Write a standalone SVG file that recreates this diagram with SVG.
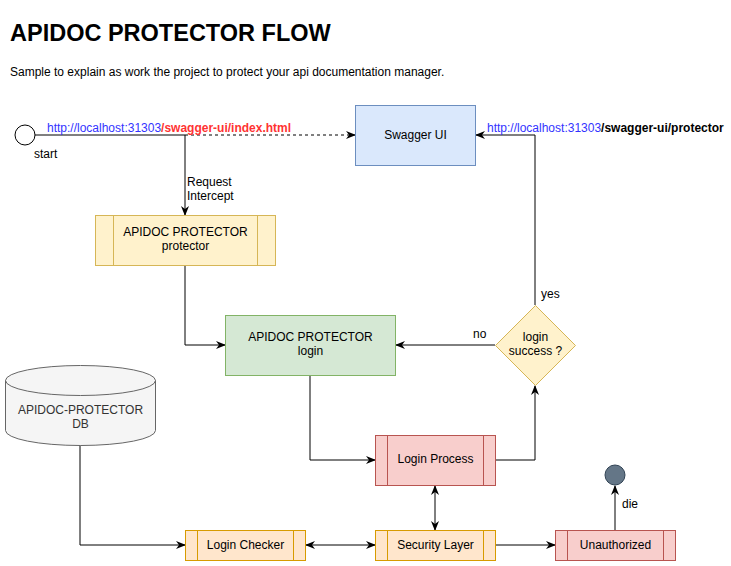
<svg xmlns="http://www.w3.org/2000/svg" width="731" height="566" viewBox="0 0 731 566">
<style>
text{font-family:"Liberation Sans",Arial,sans-serif;font-size:12px;fill:#000}
.c{text-anchor:middle}
.e{fill:none;stroke:#000;stroke-width:1}
.yellow{fill:#fff2cc;stroke:#d6b656}
.blue{fill:#dae8fc;stroke:#6c8ebf}
.green{fill:#d5e8d4;stroke:#82b366}
.red{fill:#f8cecc;stroke:#b85450}
.orange{fill:#ffe6cc;stroke:#d79b00}
.in{fill:none}
.red-in{stroke:#b85450}
.orange-in{stroke:#d79b00}
.yellow-in{stroke:#d6b656}
.url{fill:#3333ff}
</style>
<defs>
<marker id="a" viewBox="0 0 10 10" refX="9" refY="5" markerWidth="10" markerHeight="10" markerUnits="userSpaceOnUse" orient="auto-start-reverse">
<path d="M0,1 L10,5 L0,9 L3,5 Z" fill="#000"/>
</marker>
</defs>
<rect width="731" height="566" fill="#fff"/>
<g id="title">
<text x="10" y="41" style="font-size:23.5px;font-weight:bold">APIDOC PROTECTOR FLOW</text>
<text x="10" y="76">Sample to explain as work the project to protect your api documentation manager.</text>
</g>
<g id="connectors">
<path class="e" d="M35,135 H185"/>
<path class="e" d="M185,135 H355" stroke-dasharray="3,3" marker-end="url(#a)"/>
<path class="e" d="M185,135 V215" marker-end="url(#a)"/>
<path class="e" d="M185,265 V345 H225" marker-end="url(#a)"/>
<path class="e" d="M535,305 V135 H476" marker-end="url(#a)"/>
<path class="e" d="M495,345 H396" marker-end="url(#a)"/>
<path class="e" d="M310,375 V460 H375" marker-end="url(#a)"/>
<path class="e" d="M495,460 H535 V386" marker-end="url(#a)"/>
<path class="e" d="M80,445 V545 H185" marker-end="url(#a)"/>
<path class="e" d="M306,545 H375" marker-start="url(#a)" marker-end="url(#a)"/>
<path class="e" d="M435,486 V530" marker-start="url(#a)" marker-end="url(#a)"/>
<path class="e" d="M495,545 H555" marker-end="url(#a)"/>
<path class="e" d="M615,530 V486" marker-end="url(#a)"/>
<text x="47" y="132"><tspan class="url">http://localhost:31303</tspan><tspan style="fill:#ff3333;font-weight:bold">/swagger-ui/index.html</tspan></text>
<text x="187" y="186">Request</text>
<text x="187" y="200">Intercept</text>
<text x="487" y="132"><tspan class="url">http://localhost:31303</tspan><tspan style="font-weight:bold">/swagger-ui/protector</tspan></text>
<text x="541" y="298">yes</text>
<text x="473" y="338">no</text>
<text x="622" y="508">die</text>
</g>
<g id="start">
<circle cx="25" cy="135" r="10" fill="#fff" stroke="#000"/>
<text x="34" y="158">start</text>
</g>
<g id="swagger-ui">
<rect class="blue" x="355.5" y="105.5" width="120" height="60"/>
<text class="c" x="415.5" y="139">Swagger UI</text>
</g>
<g id="protector">
<rect class="yellow" x="95.5" y="215.5" width="180" height="50"/>
<path class="in yellow-in" d="M113.5,215.5 V265.5 M257.5,215.5 V265.5"/>
<text class="c" x="185.5" y="236">APIDOC PROTECTOR</text>
<text class="c" x="185.5" y="250">protector</text>
</g>
<g id="login">
<rect class="green" x="225.5" y="315.5" width="170" height="60"/>
<text class="c" x="310.5" y="341">APIDOC PROTECTOR</text>
<text class="c" x="310.5" y="355">login</text>
</g>
<g id="login-success">
<path class="yellow" d="M535.5,305.5 L575.5,345.5 L535.5,385.5 L495.5,345.5 Z"/>
<text class="c" x="535.5" y="341">login</text>
<text class="c" x="535.5" y="355">success ?</text>
</g>
<g id="login-process">
<rect class="red" x="375.5" y="435.5" width="120" height="50"/>
<path class="in red-in" d="M387.5,435.5 V485.5 M483.5,435.5 V485.5"/>
<text class="c" x="435.5" y="463">Login Process</text>
</g>
<g id="db">
<path d="M5.5,380.5 A75,15 0 0 1 155.5,380.5 V430.5 A75,15 0 0 1 5.5,430.5 Z" fill="#f5f5f5" stroke="#666"/>
<path d="M5.5,380.5 A75,15 0 0 0 155.5,380.5" fill="none" stroke="#666"/>
<text class="c" x="80.5" y="414" style="fill:#333">APIDOC-PROTECTOR</text>
<text class="c" x="80.5" y="428" style="fill:#333">DB</text>
</g>
<g id="login-checker">
<rect class="orange" x="185.5" y="530.5" width="120" height="30"/>
<path class="in orange-in" d="M197.5,530.5 V560.5 M293.5,530.5 V560.5"/>
<text class="c" x="245.5" y="548.5">Login Checker</text>
</g>
<g id="security-layer">
<rect class="orange" x="375.5" y="530.5" width="120" height="30"/>
<path class="in orange-in" d="M387.5,530.5 V560.5 M483.5,530.5 V560.5"/>
<text class="c" x="435.5" y="548.5">Security Layer</text>
</g>
<g id="unauthorized">
<rect class="red" x="555.5" y="530.5" width="120" height="30"/>
<path class="in red-in" d="M567.5,530.5 V560.5 M663.5,530.5 V560.5"/>
<text class="c" x="615.5" y="548.5">Unauthorized</text>
</g>
<g id="end">
<circle cx="615" cy="475" r="10" fill="#647687" stroke="#314354"/>
</g>
</svg>
